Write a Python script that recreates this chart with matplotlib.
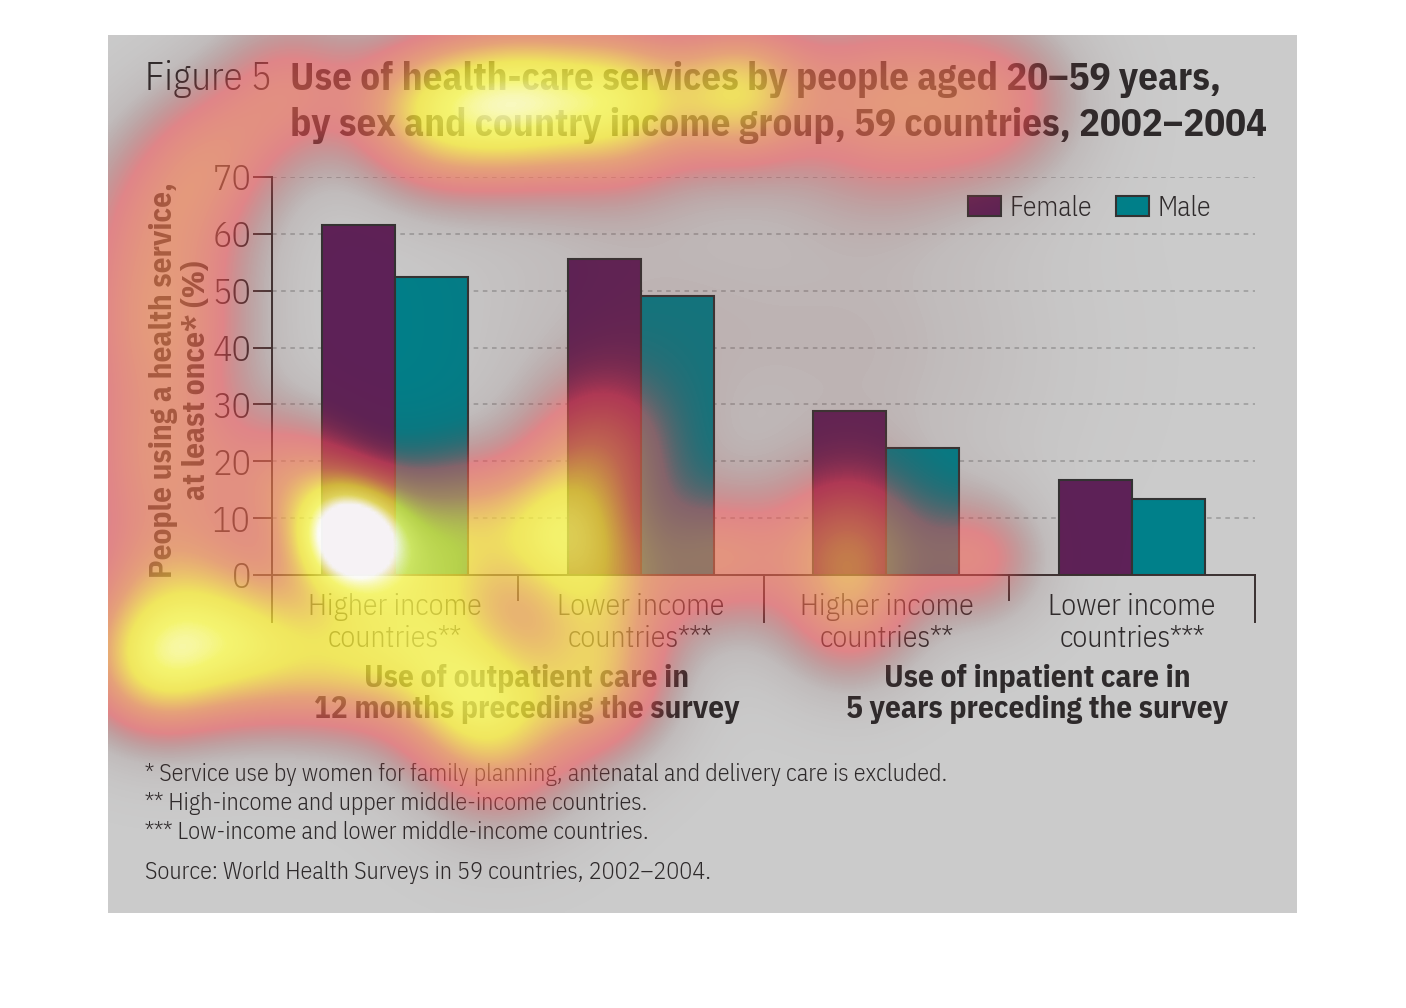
import numpy as np
import matplotlib
matplotlib.use("Agg")
import matplotlib.pyplot as plt
from matplotlib.patches import Rectangle
from matplotlib.colors import LinearSegmentedColormap

# data
groups = ["Higher income\ncountries**", "Lower income\ncountries***",
          "Higher income\ncountries**", "Lower income\ncountries***"]
female = [61.5, 55.6, 28.8, 16.7]
male = [52.4, 49.1, 22.3, 13.4]
yticks = [0, 10, 20, 30, 40, 50, 60, 70]
care_labels = ["Use of outpatient care in\n12 months preceding the survey",
               "Use of inpatient care in\n5 years preceding the survey"]
notes = ["* Service use by women for family planning, antenatal and delivery care is excluded.",
         "** High-income and upper middle-income countries.",
         "*** Low-income and lower middle-income countries."]
source = "Source: World Health Surveys in 59 countries, 2002\u20132004."

# eye-tracking fixations overlaid on the figure (pixel x, pixel y, weight, spread)
fix_x = [430, 520, 620, 740, 880, 1000, 290, 210, 160, 160, 160, 170, 350, 300, 450, 560,
         250, 150, 350, 470, 600, 420, 600, 600, 720, 850, 980, 850, 500, 650, 900]
fix_y = [110, 100, 100, 90, 100, 100, 85, 150, 220, 330, 460, 600, 537, 480, 530, 530,
         650, 670, 660, 690, 690, 610, 600, 450, 560, 540, 560, 620, 745, 320, 350]
fix_w = [0.58, 0.65, 0.62, 0.55, 0.38, 0.3, 0.3, 0.25, 0.28, 0.35, 0.35, 0.4, 1.0, 0.35, 0.45,
         0.5, 0.5, 0.5, 0.45, 0.5, 0.4, 0.35, 0.4, 0.33, 0.33, 0.4, 0.3, 0.3, 0.35, 0.12, 0.1]
fix_s = [55, 55, 55, 50, 70, 60, 55, 55, 65, 65, 65, 65, 38, 50, 55, 50,
         55, 50, 55, 55, 50, 55, 55, 55, 50, 55, 45, 50, 60, 130, 110]

FONT = ["IBM Plex Sans Condensed", "DejaVu Sans"]
DARK = "#2e2a2b"
W, H = 1406, 1008

fig = plt.figure(figsize=(W / 100, H / 100), dpi=100)
fig.patch.set_facecolor("white")


def fx(x):
    return x / W


def fy(y):
    return 1 - y / H


fig.patches.append(Rectangle((fx(108), fy(913)), fx(1297) - fx(108), fy(35) - fy(913),
                             transform=fig.transFigure, facecolor="#cbcbcb",
                             edgecolor="none", zorder=-10))

ax = fig.add_axes([fx(272), fy(575), fx(1255) - fx(272), fy(177) - fy(575)])
ax.set_facecolor("none")

xpos = np.arange(len(groups))
bw = 0.297
ax.bar(xpos - bw / 2, female, bw, color="#5e2158", edgecolor="#333333",
       linewidth=1.5, label="Female", zorder=3)
ax.bar(xpos + bw / 2, male, bw, color="#00808a", edgecolor="#333333",
       linewidth=1.5, label="Male", zorder=3)

ax.set_xlim(-0.5, 3.5)
ax.set_ylim(0, 70)
ax.set_yticks(yticks)
ax.set_yticklabels([str(t) for t in yticks], fontsize=26, family=FONT,
                   weight=300, color=DARK)
ax.set_xticks([])
for t in yticks[1:]:
    ax.axhline(t, color="#9a9a9a", lw=1.1, ls=(0, (3, 3)), zorder=1)
ax.tick_params(axis="y", length=14, width=1.3, color="#3a2a2a", pad=1)
for s in ["top", "right", "bottom", "left"]:
    ax.spines[s].set_visible(False)

# axis frame with group separators reaching below the baseline
kw = dict(color="#3a3030", lw=1.4, clip_on=False, zorder=4)
ax.plot([-0.5, 3.5], [0, 0], **kw)
ax.plot([-0.5, -0.5], [-8.3, 70], **kw)
ax.plot([3.5, 3.5], [-8.3, 0], **kw)
ax.plot([1.5, 1.5], [-8.3, 0], **kw)
ax.plot([0.5, 0.5], [-4.4, 0], **kw)
ax.plot([2.5, 2.5], [-4.4, 0], **kw)

for i, g in enumerate(groups):
    ax.text(i, -3.1, g, ha="center", va="top", fontsize=21.5, family=FONT,
            weight=300, color=DARK, linespacing=1.2)

ax.legend(loc="upper left", bbox_to_anchor=(fx(968), fy(195)),
          bbox_transform=fig.transFigure, ncol=2, frameon=False,
          prop={"family": FONT, "size": 20, "weight": 300}, handlelength=1.2,
          handleheight=0.75, handletextpad=0.3, columnspacing=0.85, borderpad=0,
          borderaxespad=0, labelcolor=DARK)

# titles and labels
fig.text(fx(145), fy(90), "Figure 5", fontsize=28, family=FONT, weight=300,
         color=DARK, va="baseline")
fig.text(fx(290), fy(90), "Use of health-care services by people aged 20\u201359 years,",
         fontsize=28, family=FONT, weight="bold", color=DARK, va="baseline")
fig.text(fx(290), fy(136), "by sex and country income group, 59 countries, 2002\u20132004",
         fontsize=28, family=FONT, weight="bold", color=DARK, va="baseline")

fig.text(fx(180), fy(380), "People using a health service,\nat least once* (%)",
         rotation=90, ha="center", va="center", fontsize=22.5, family=FONT,
         weight="bold", color=DARK, multialignment="center", linespacing=1.15)

for cx, lab in zip([527, 1037], care_labels):
    fig.text(fx(cx), fy(694), lab, ha="center", va="center", fontsize=22.5,
             family=FONT, weight="bold", color=DARK, linespacing=1.12)

for i, n in enumerate(notes):
    fig.text(fx(145), fy(781 + 29 * i), n, fontsize=17.3, family=FONT, weight=300,
             color=DARK, va="baseline")
fig.text(fx(145), fy(879), source, fontsize=17.3, family=FONT, weight=300,
         color=DARK, va="baseline")

# gaze heatmap overlay, clipped to the grey panel
hx = np.linspace(108, 1297, 320)
hy = np.linspace(35, 913, 240)
gx, gy = np.meshgrid(hx, hy)
heat = np.zeros_like(gx)
for x0, y0, w0, s0 in zip(fix_x, fix_y, fix_w, fix_s):
    heat += w0 * np.exp(-((gx - x0) ** 2 + (gy - y0) ** 2) / (2 * s0 ** 2))
heat = np.clip(heat, 0, 1)

cmap = LinearSegmentedColormap.from_list("gaze", [
    (0.00, (0.35, 0.18, 0.18, 0.0)),
    (0.10, (0.40, 0.20, 0.20, 0.10)),
    (0.30, (0.95, 0.30, 0.32, 0.55)),
    (0.50, (0.96, 0.55, 0.30, 0.65)),
    (0.70, (1.00, 0.95, 0.20, 0.72)),
    (0.85, (1.00, 1.00, 0.35, 0.80)),
    (1.00, (1.00, 1.00, 1.00, 0.95)),
])
hax = fig.add_axes([0, 0, 1, 1], zorder=10)
hax.set_xlim(0, W)
hax.set_ylim(H, 0)
hax.axis("off")
hax.imshow(heat, cmap=cmap, vmin=0, vmax=1, extent=(108, 1297, 913, 35),
           interpolation="bilinear", aspect="auto")

fig.savefig("out.png", dpi=100)
